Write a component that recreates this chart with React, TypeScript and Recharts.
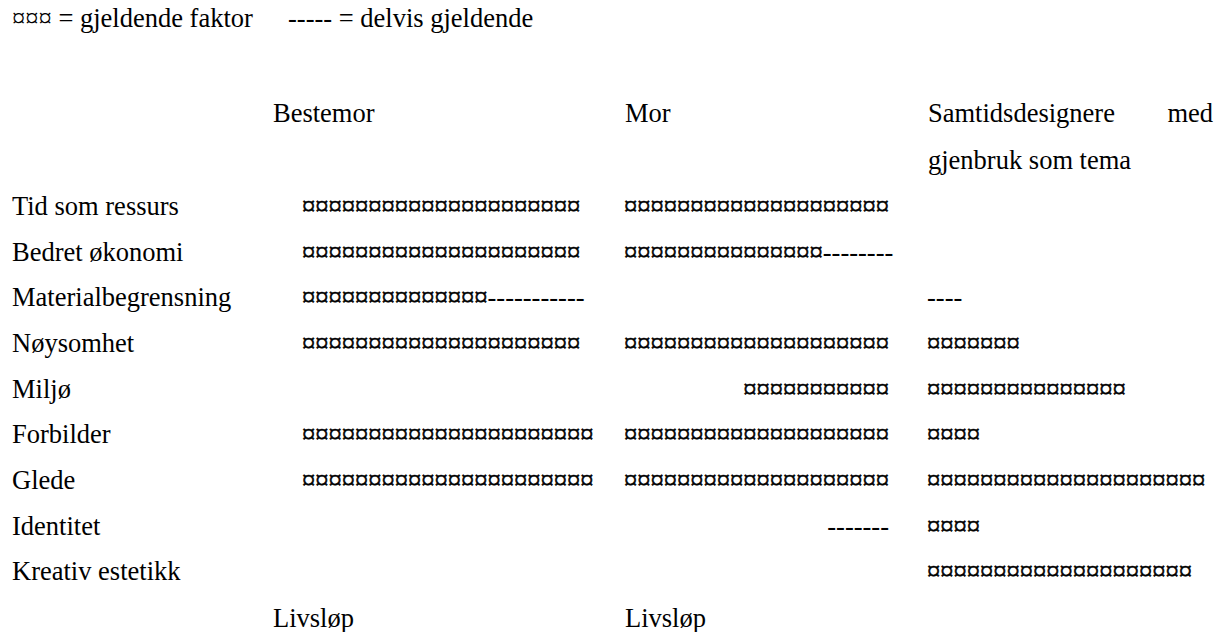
import { BarChart, Bar, XAxis, YAxis } from 'recharts'

const factors = [
  'Tid som ressurs', 'Bedret økonomi', 'Materialbegrensning', 'Nøysomhet',
  'Miljø', 'Forbilder', 'Glede', 'Identitet', 'Kreativ estetikk',
]

// antall ¤ (gjeldende) og - (delvis gjeldende) per faktor
const bestemorFull = [21, 21, 14, 21, 0, 22, 22, 0, 0]
const bestemorDelvis = [0, 0, 11, 0, 0, 0, 0, 0, 0]
const morFull = [20, 15, 0, 20, 11, 20, 20, 0, 0]
const morDelvis = [0, 8, 0, 0, 0, 0, 0, 7, 0]
const samtidFull = [0, 0, 0, 7, 15, 4, 21, 4, 20]
const samtidDelvis = [0, 0, 4, 0, 0, 0, 0, 0, 0]
const morHoyrejustert = ['Miljø', 'Identitet']

const W = 1227
const H = 632
const LABEL_W = 273
const FONT = 26.5
const CHAR = FONT * 0.5          // bredden på ett ¤-tegn
const DASH = 0.333 / 0.5         // bindestrek i ¤-enheter
const FF = '"Liberation Serif", "Times New Roman", serif'
const txt = { fontFamily: FF, fontSize: FONT, fill: '#000' }

const kolonner = [
  { start: 29 / CHAR, full: bestemorFull, delvis: bestemorDelvis, span: 22, hoyre: [] as string[] },
  { start: 351 / CHAR, full: morFull, delvis: morDelvis, span: 20, hoyre: morHoyrejustert },
  { start: 654 / CHAR, full: samtidFull, delvis: samtidDelvis, span: 21, hoyre: [] as string[] },
]

const data = factors.map((f, i) => {
  const row: Record<string, number | string> = { factor: f }
  let cursor = 0
  kolonner.forEach((k, c) => {
    const full = k.full[i]
    const delvis = k.delvis[i] * DASH
    const total = full + delvis
    const start = k.start + (k.hoyre.includes(f) ? k.span - total : 0)
    row[`pad${c}`] = start - cursor
    row[`full${c}`] = full
    row[`delvis${c}`] = delvis
    row[`nFull${c}`] = k.full[i]
    row[`nDelvis${c}`] = k.delvis[i]
    cursor = start + total
  })
  return row
})

const glyphShape = (ch: string, key: string, bold = 0) => (props: any) => {
  const n = Number(props.payload?.[key] ?? 0)
  if (!n) return <g />
  return (
    <text
      x={props.x}
      y={props.y + props.height / 2 + 9}
      style={txt}
      stroke={bold ? '#000' : 'none'}
      strokeWidth={bold}
      textLength={props.width}
      lengthAdjust="spacing"
    >
      {ch.repeat(n)}
    </text>
  )
}

const faktorTick = (p: any) => (
  <text x={12} y={p.y + 9} style={txt} textAnchor="start">
    {p.payload.value}
  </text>
)

const T = ({ x, y, anchor = 'start', children }: any) => (
  <text x={x} y={y} style={txt} textAnchor={anchor}>
    {children}
  </text>
)

export default function App() {
  return (
    <div style={{ position: 'absolute', left: 0, top: 0, width: W, height: H, background: '#fff' }}>
      <BarChart
        width={W}
        height={H}
        data={data}
        layout="vertical"
        margin={{ top: 183, right: 0, bottom: 38, left: 0 }}
      >
        <XAxis type="number" domain={[0, (W - LABEL_W) / CHAR]} hide />
        <YAxis
          type="category"
          dataKey="factor"
          width={LABEL_W}
          axisLine={false}
          tickLine={false}
          tick={faktorTick}
          interval={0}
        />
        {[0, 1, 2].flatMap(c => [
          <Bar key={`pad${c}`} dataKey={`pad${c}`} stackId="a" fill="none" isAnimationActive={false} />,
          <Bar key={`full${c}`} dataKey={`full${c}`} stackId="a" isAnimationActive={false}
            shape={glyphShape('¤', `nFull${c}`, 0.6)} />,
          <Bar key={`delvis${c}`} dataKey={`delvis${c}`} stackId="a" isAnimationActive={false}
            shape={glyphShape('-', `nDelvis${c}`)} />,
        ])}
      </BarChart>
      <svg width={W} height={H} style={{ position: 'absolute', left: 0, top: 0, pointerEvents: 'none' }}>
        <T x={12} y={27}>¤¤¤ = gjeldende faktor</T>
        <T x={288} y={27}>----- = delvis gjeldende</T>
        <T x={273} y={122}>Bestemor</T>
        <T x={625} y={122}>Mor</T>
        <T x={928} y={122}>Samtidsdesignere</T>
        <T x={1213} y={122} anchor="end">med</T>
        <T x={928} y={169}>gjenbruk som tema</T>
        <T x={273} y={627}>Livsløp</T>
        <T x={625} y={627}>Livsløp</T>
      </svg>
    </div>
  )
}
